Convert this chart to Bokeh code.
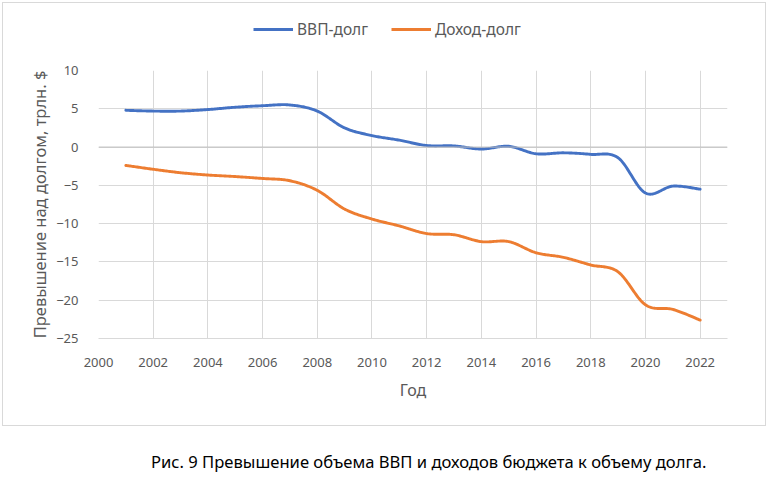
import numpy as np
from bokeh.plotting import figure
from bokeh.models import Range1d, Legend, LegendItem, Span, FixedTicker, Div
from bokeh.layouts import column
from bokeh.embed import file_html
from bokeh.resources import INLINE

years = list(range(2001, 2023))
gdp_minus_debt = [4.8, 4.7, 4.7, 4.9, 5.2, 5.4, 5.5, 4.7, 2.5, 1.5, 0.9, 0.2,
                  0.15, -0.26, 0.1, -0.87, -0.75, -0.95, -1.4, -6.0, -5.1, -5.5]
revenue_minus_debt = [-2.4, -2.9, -3.35, -3.65, -3.85, -4.1, -4.4, -5.65, -8.1, -9.4, -10.3, -11.3,
                      -11.45, -12.35, -12.35, -13.8, -14.4, -15.4, -16.3, -20.6, -21.2, -22.6]
x_ticks = list(range(2000, 2023, 2))
y_ticks = list(range(-25, 11, 5))

series_names = ["ВВП-долг", "Доход-долг"]
colors = ["#4472C4", "#ED7D31"]
FONT = "Noto Sans"
GRAY = "#595959"
INNER_W = 762


def smooth(xs, ys, n=24):
    P = np.column_stack([np.asarray(xs, float), np.asarray(ys, float)])
    out = [P[0]]
    m = len(P)
    for i in range(m - 1):
        p0 = P[max(i - 1, 0)]
        p1 = P[i]
        p2 = P[i + 1]
        p3 = P[min(i + 2, m - 1)]
        c1 = p1 + (p2 - p0) / 6.0
        c2 = p2 - (p3 - p1) / 6.0
        t = np.linspace(0, 1, n)[1:, None]
        b = ((1 - t) ** 3) * p1 + 3 * ((1 - t) ** 2) * t * c1 + 3 * (1 - t) * t ** 2 * c2 + t ** 3 * p2
        out.extend(b)
    out = np.array(out)
    return out[:, 0], out[:, 1]


# ---- main chart ----
p = figure(width=INNER_W, height=372, output_backend="svg", toolbar_location=None,
           x_range=Range1d(2000, 2023), y_range=Range1d(-25, 10),
           min_border_left=95, min_border_right=38, min_border_top=17, min_border_bottom=87)
p.outline_line_color = None
p.background_fill_color = "white"
p.border_fill_color = "white"

for ax in (p.xaxis, p.yaxis):
    ax.major_tick_line_color = None
    ax.minor_tick_line_color = None
    ax.major_label_text_font = FONT
    ax.major_label_text_font_size = "13px"
    ax.major_label_text_color = GRAY
    ax.axis_label_text_font = FONT
    ax.axis_label_text_font_style = "normal"
    ax.axis_label_text_color = GRAY

p.xaxis.ticker = FixedTicker(ticks=x_ticks)
p.yaxis.ticker = FixedTicker(ticks=y_ticks)
p.xaxis.axis_line_color = "#d9d9d9"
p.yaxis.axis_line_color = None
p.xaxis.axis_label = "Год"
p.yaxis.axis_label = "Превышение над долгом, трлн. $"
p.xaxis.axis_label_text_font_size = "16px"
p.yaxis.axis_label_text_font_size = "16.5px"
p.xaxis.major_label_standoff = 13
p.yaxis.major_label_standoff = 14
p.xaxis.axis_label_standoff = 9
p.yaxis.axis_label_standoff = 2

p.xgrid.ticker = FixedTicker(ticks=x_ticks)
p.ygrid.ticker = FixedTicker(ticks=y_ticks)
p.xgrid.grid_line_color = "#d9d9d9"
p.ygrid.grid_line_color = "#d9d9d9"

p.add_layout(Span(location=0, dimension="width", line_color="#bfbfbf", line_width=1))

renderers = []
for vals, c in zip([gdp_minus_debt, revenue_minus_debt], colors):
    sx, sy = smooth(years, vals)
    r = p.line(sx, sy, line_color=c, line_width=2.9, line_cap="round", line_join="round")
    renderers.append(r)

# ---- legend strip ----
lg = figure(width=INNER_W, height=50, output_backend="svg", toolbar_location=None,
            x_range=Range1d(0, 1), y_range=Range1d(0, 1),
            min_border_left=0, min_border_right=0, min_border_top=0, min_border_bottom=0)
lg.axis.visible = False
lg.grid.visible = False
lg.outline_line_color = None
lg.border_fill_color = "white"
# legend-only renderers: their points lie outside the strip's ranges, only the legend glyphs show
lg_renderers = [lg.line(x=[5, 6], y=[5, 6], line_color=c, line_width=2.9) for c in colors]
legend = Legend(items=[LegendItem(label=n, renderers=[r]) for n, r in zip(series_names, lg_renderers)],
                orientation="horizontal", location=(155, 13),
                label_text_font=FONT, label_text_font_size="15.5px", label_text_color=GRAY,
                glyph_width=40, glyph_height=20, label_standoff=4, spacing=23,
                padding=0, margin=0, border_line_color=None, background_fill_alpha=0)
lg.add_layout(legend, "center")

box = column(lg, p, spacing=0, margin=(2, 0, 0, 2),
             styles={"border": "1px solid #d9d9d9"})

caption = Div(text="Рис. 9 Превышение объема ВВП и доходов бюджета к объему долга.",
              width=760, height=46,
              styles={"font-family": FONT, "font-size": "16.6px", "color": "black",
                      "padding-top": "19px", "padding-left": "146px", "white-space": "nowrap"})

layout = column(box, caption, spacing=0)
open("out.html", "w").write(file_html(layout, INLINE))
